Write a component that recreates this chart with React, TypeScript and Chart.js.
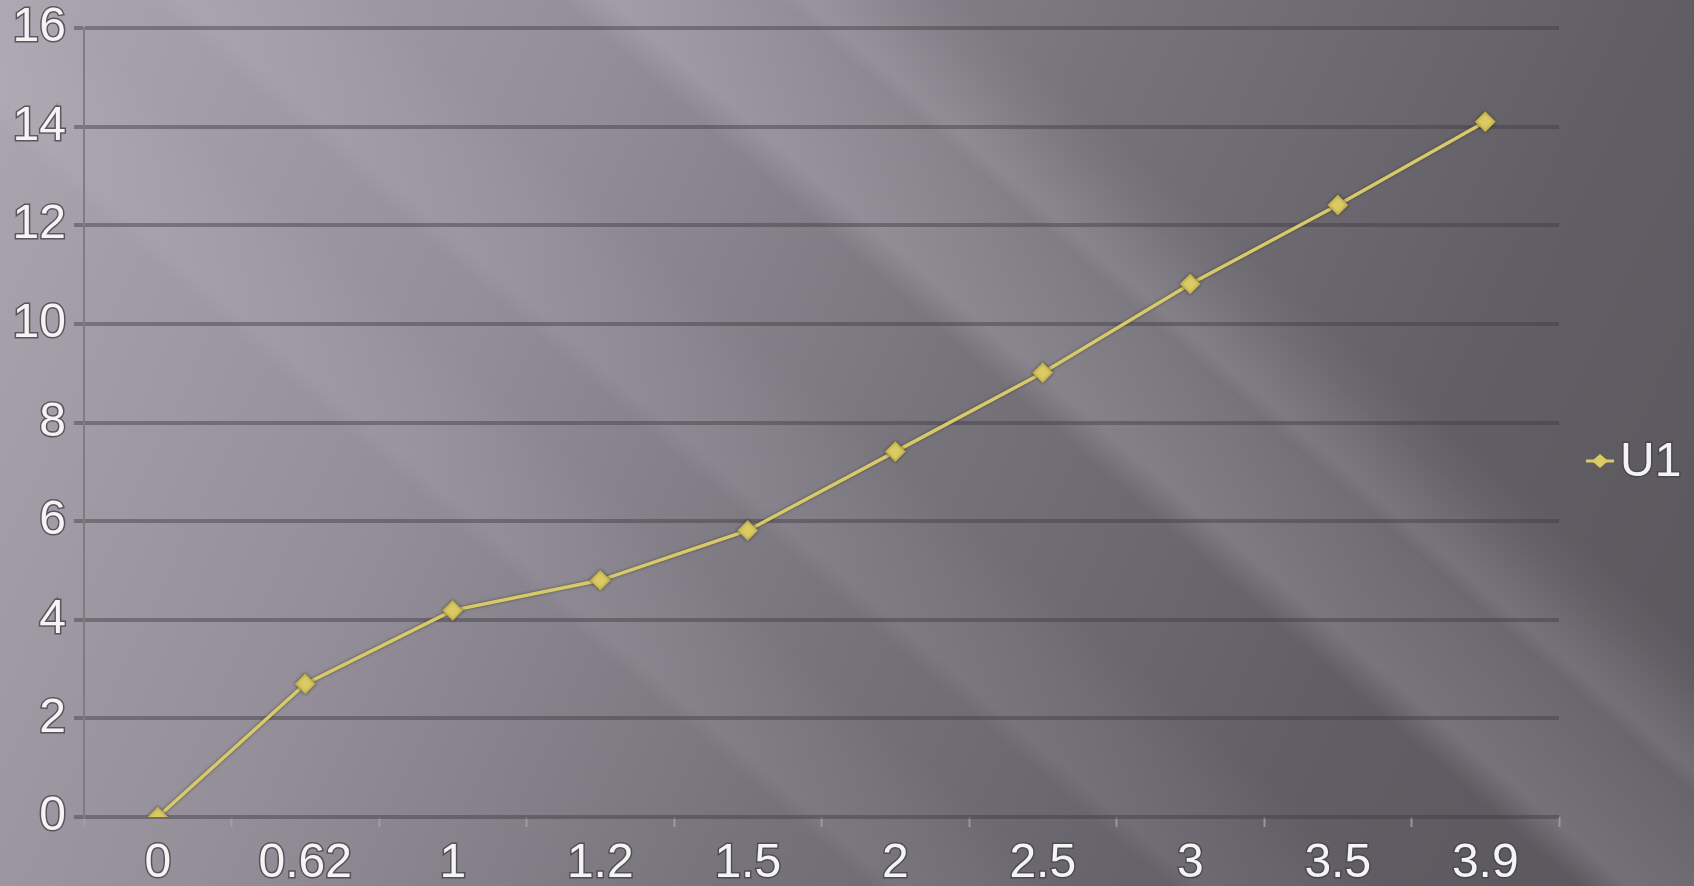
import React, { useEffect, useRef } from "react";
import { Chart, registerables } from "chart.js";

Chart.register(...registerables);

const categories = ["0", "0.62", "1", "1.2", "1.5", "2", "2.5", "3", "3.5", "3.9"];
const seriesLabel = "U1";
const u1Values = [0, 2.7, 4.19, 4.8, 5.81, 7.41, 9.01, 10.81, 12.41, 14.1];
const yMin = 0;
const yMax = 16;
const yStep = 2;

const FONT = "'Liberation Sans', Arial, sans-serif";
const LINE_COLOR = "#d6ca6c";

const backgroundPlugin = {
  id: "bgPlugin",
  beforeDraw(chart: any) {
    const { ctx, width, height } = chart;
    ctx.save();
    const g = ctx.createLinearGradient(0, 0, width, height * 0.9);
    g.addColorStop(0, "#aca6b1");
    g.addColorStop(0.3, "#938e98");
    g.addColorStop(0.55, "#77737b");
    g.addColorStop(0.8, "#615e65");
    g.addColorStop(1, "#5a575d");
    ctx.fillStyle = g;
    ctx.fillRect(0, 0, width, height);
    const bands = [
      { x0: 560, w: 340, a: 0.17 },
      { x0: 780, w: 180, a: 0.1 },
      { x0: 150, w: 220, a: 0.08 },
      { x0: -150, w: 200, a: 0.07 },
    ];
    for (const b of bands) {
      const slope = 1.15;
      const lg = ctx.createLinearGradient(b.x0, 0, b.x0 + b.w, 0);
      lg.addColorStop(0, `rgba(235,230,240,0)`);
      lg.addColorStop(0.15, `rgba(235,230,240,${b.a})`);
      lg.addColorStop(0.6, `rgba(235,230,240,${b.a * 0.6})`);
      lg.addColorStop(1, `rgba(235,230,240,0)`);
      ctx.save();
      ctx.transform(1, 0, slope, 1, 0, 0);
      ctx.fillStyle = lg;
      ctx.fillRect(b.x0, 0, b.w, height);
      ctx.restore();
    }
    ctx.restore();
  },
};

const shadowPlugin = {
  id: "lineShadow",
  beforeDatasetsDraw(chart: any) {
    const ctx = chart.ctx;
    ctx.save();
    ctx.shadowColor = "rgba(55,50,30,0.7)";
    ctx.shadowBlur = 3;
  },
  afterDatasetsDraw(chart: any) {
    chart.ctx.restore();
  },
};

const legendPlugin = {
  id: "customLegend",
  afterDraw(chart: any) {
    const ctx = chart.ctx;
    const ds = chart.data.datasets[0];
    const x = chart.chartArea.right + 41;
    const y = 461;
    ctx.save();
    ctx.fillStyle = ds.pointBackgroundColor;
    ctx.strokeStyle = ds.borderColor;
    ctx.lineWidth = 3;
    ctx.beginPath();
    ctx.moveTo(x - 14, y);
    ctx.lineTo(x + 14, y);
    ctx.stroke();
    ctx.beginPath();
    ctx.moveTo(x, y - 7);
    ctx.lineTo(x + 8, y);
    ctx.lineTo(x, y + 7);
    ctx.lineTo(x - 8, y);
    ctx.closePath();
    ctx.fill();
    ctx.font = `48px ${FONT}`;
    ctx.textBaseline = "middle";
    ctx.textAlign = "left";
    ctx.lineWidth = 3;
    ctx.strokeStyle = "rgba(70,68,74,0.8)";
    ctx.strokeText(ds.label, x + 20, y + 2);
    ctx.fillStyle = "#f3f3f3";
    ctx.fillText(ds.label, x + 20, y + 2);
    ctx.restore();
  },
};

export default function App() {
  const canvasRef = useRef<HTMLCanvasElement | null>(null);

  useEffect(() => {
    if (!canvasRef.current) return;
    const chart = new Chart(canvasRef.current, {
      type: "line",
      data: {
        labels: categories,
        datasets: [
          {
            label: seriesLabel,
            data: u1Values,
            borderColor: LINE_COLOR,
            borderWidth: 3.5,
            pointStyle: "rectRot",
            pointRadius: 10,
            pointBackgroundColor: "#dccb62",
            pointBorderColor: "#b8aa52",
            pointBorderWidth: 1,
            tension: 0,
            fill: false,
          },
        ],
      },
      options: {
        responsive: true,
        maintainAspectRatio: false,
        animation: false,
        layout: { padding: { top: 28, right: 135, bottom: 0, left: 0 } },
        plugins: {
          legend: { display: false },
          tooltip: { enabled: false },
        },
        scales: {
          x: {
            type: "category",
            offset: true,
            grid: {
              display: true,
              offset: true,
              drawOnChartArea: false,
              drawTicks: true,
              tickLength: 10,
              tickColor: "rgba(165,162,170,0.8)",
              tickWidth: 2,
            },
            border: { display: false },
            ticks: {
              color: "#f4f4f4",
              font: { family: FONT, size: 48 },
              padding: 8,
              textStrokeColor: "rgba(70,68,74,0.8)",
              textStrokeWidth: 3,
              maxRotation: 0,
              autoSkip: false,
            },
            afterFit(scale: any) {
              scale.height = 69;
              scale.paddingLeft = 0;
              scale.paddingRight = 0;
            },
          },
          y: {
            min: yMin,
            max: yMax,
            grid: {
              color: "rgba(62,60,66,0.45)",
              lineWidth: 4,
              tickLength: 10,
            },
            border: { display: true, color: "rgba(125,121,130,0.95)", width: 2 },
            ticks: {
              stepSize: yStep,
              color: "#f4f4f4",
              font: { family: FONT, size: 48 },
              padding: 8,
              textStrokeColor: "rgba(70,68,74,0.8)",
              textStrokeWidth: 3,
            },
            afterFit(scale: any) {
              scale.width = 84;
              scale.paddingTop = 0;
              scale.paddingBottom = 0;
            },
          },
        },
      },
      plugins: [backgroundPlugin, shadowPlugin, legendPlugin],
    });
    return () => chart.destroy();
  }, []);

  return (
    <div style={{ position: "fixed", left: 0, top: 0, width: "1694px", height: "886px" }}>
      <canvas ref={canvasRef} />
    </div>
  );
}
